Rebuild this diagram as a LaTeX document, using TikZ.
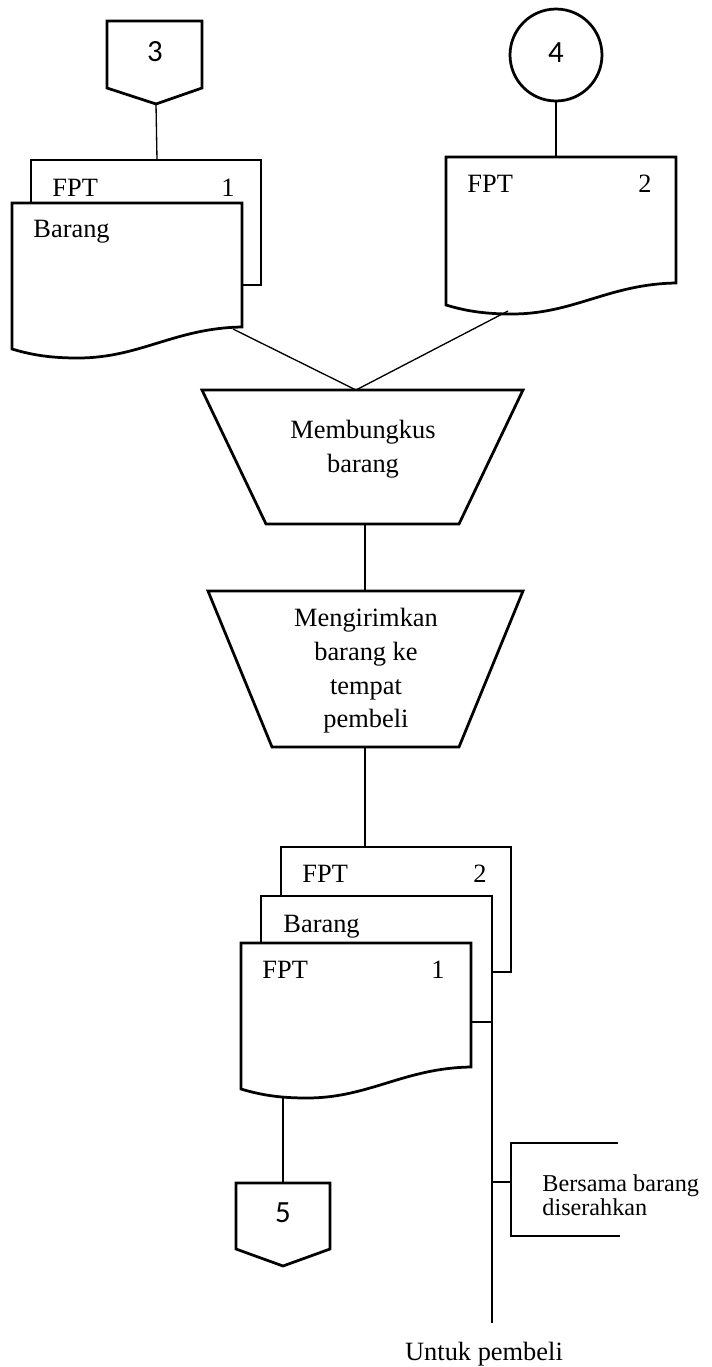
\documentclass[tikz,border=0pt]{standalone}
\usepackage{fontspec}
\setmainfont{Liberation Serif}
\newfontfamily\connfont{Carlito}
\newcommand\wavedoc[4]{% left, top, right, right-bottom
  \draw[box] (#1,#2) -- (#3,#2) -- (#3,#4)
    .. controls ({#3-67},{#4+1}) and ({#3-102},{#4+31}) .. ({#1+66},{#4+31})
    .. controls ({#1+43},{#4+31}) and ({#1+23},{#4+29}) .. (#1,{#4+22}) -- cycle;}
\begin{document}
\begin{tikzpicture}[x=0.4545pt,y=-0.4545pt,
  box/.style={draw=black,line width=1.25pt,fill=white,line join=miter},
  conn/.style={draw=black,line width=0.6pt},
  lbl/.style={inner sep=0pt,font=\fontsize{12}{14}\selectfont},
  proc/.style={inner sep=0pt,align=center,font=\fontsize{12}{15.3}\selectfont},
  num/.style={inner sep=0pt,font=\connfont\fontsize{14}{16}\selectfont}]
\useasboundingbox (0,0) rectangle (712,1367);

% ---------- off-page connector 3 ----------
\draw[box] (107,21) -- (202,21) -- (202,88) -- (156,104) -- (107,88) -- cycle;
\node[num] (n3) at (155,52) {3};
\coordinate (c3) at (156,104);

% ---------- document stack (FPT 1 / Barang) ----------
\draw[box] (31,160) rectangle (261,285);
\coordinate (d1top) at (157,160);
\node[lbl,anchor=base west] (d1a) at (52,196) {FPT};
\node[lbl,anchor=base east] (d1b) at (235,196) {1};
\wavedoc{12}{203}{242}{327}
\node[lbl,anchor=base west] (d1c) at (33,237) {Barang};
\coordinate (d1bot) at (233,329);

% ---------- on-page connector 4 ----------
\draw[box,fill=none] (556,55) circle[radius=20.9pt];
\node[num] (n4) at (556,53) {4};
\coordinate (c4) at (556,101);

% ---------- document FPT 2 ----------
\wavedoc{446}{157}{676}{283}
\coordinate (d2top) at (556,157);
\node[lbl,anchor=base west] (d2a) at (467,192) {FPT};
\node[lbl,anchor=base east] (d2b) at (652,192) {2};
\coordinate (d2bot) at (508,311);

% ---------- manual operation 1 ----------
\draw[box] (202,390) -- (523,390) -- (459,524) -- (266,524) -- cycle;
\node[proc] (p1) at (363,449) {Membungkus\\barang};
\coordinate (p1top) at (356,390);
\coordinate (p1bot) at (365,524);

% ---------- manual operation 2 ----------
\draw[box] (208,591) -- (523,591) -- (459,747) -- (272,747) -- cycle;
\node[proc] (p2) at (366,671) {Mengirimkan\\barang ke\\tempat\\pembeli};
\coordinate (p2top) at (365,591);
\coordinate (p2bot) at (365,747);

% ---------- document stack 2 ----------
\draw[box] (281,847) rectangle (511,972);
\coordinate (s2top) at (365,847);
\node[lbl,anchor=base west] (s2a) at (302,882) {FPT};
\node[lbl,anchor=base east] (s2b) at (487,882) {2};
\draw[box] (261,896) rectangle (492,1022);
\node[lbl,anchor=base west] (s2c) at (283,932) {Barang};
\coordinate (s2mid) at (492,1022);
\wavedoc{241}{943}{471}{1067}
\node[lbl,anchor=base west] (s2d) at (262,978) {FPT};
\node[lbl,anchor=base east] (s2e) at (445,978) {1};
\coordinate (s2bot) at (283,1096);

% ---------- off-page connector 5 ----------
\draw[box] (236,1183) -- (330,1183) -- (330,1249) -- (283,1266) -- (236,1249) -- cycle;
\node[num] (n5) at (283,1213) {5};
\coordinate (c5) at (283,1183);

% ---------- annotation ----------
\coordinate (vend) at (492,1323);
\coordinate (tap) at (492,1182);
\coordinate (brk) at (511,1182);
\coordinate (brkT) at (511,1143);
\coordinate (brkB) at (511,1236);
\coordinate (brkTR) at (618,1143);
\coordinate (brkBR) at (620,1236);
\node[inner sep=0pt,anchor=base west,align=left,font=\fontsize{11}{10.8}\selectfont] (note) at (542,1215) {Bersama barang\\diserahkan};
\node[lbl,anchor=base] (buyer) at (484,1360) {Untuk pembeli};

% ---------- connectors ----------
\draw[conn] (c3) -- (d1top);
\draw[conn] (c4) -- (d2top);
\draw[conn] (d1bot) -- (p1top);
\draw[conn] (d2bot) -- (p1top);
\draw[conn] (p1bot) -- (p2top);
\draw[conn] (p2bot) -- (s2top);
\draw[conn] (s2bot) -- (c5);
\draw[conn] (s2mid) -- (vend);
\draw[conn] (tap) -- (brk);
\draw[conn] (brkTR) -- (brkT) -- (brkB) -- (brkBR);
\end{tikzpicture}
\end{document}
